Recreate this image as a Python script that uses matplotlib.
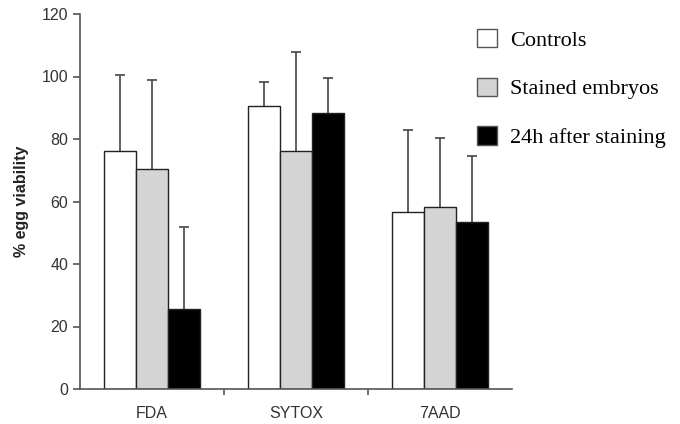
import numpy as np
import matplotlib.pyplot as plt
from matplotlib.patches import Patch
from matplotlib.ticker import FixedLocator

categories = ['FDA', 'SYTOX', '7AAD']
series = ['Controls', 'Stained embryos', '24h after staining']
means = {
    'Controls': [76.1, 90.6, 56.5],
    'Stained embryos': [70.4, 76.2, 58.3],
    '24h after staining': [25.7, 88.3, 53.4],
}
errors = {
    'Controls': [24.5, 7.6, 26.5],
    'Stained embryos': [28.4, 31.5, 21.9],
    '24h after staining': [26.2, 11.3, 21.2],
}
colors = ['white', '#d4d4d4', 'black']

fig = plt.figure(figsize=(6.8, 4.24), dpi=100)
ax = fig.add_axes([80 / 680, 35 / 424, 432 / 680, 375 / 424])

x = np.arange(len(categories))
width = 32 / 144
for i, name in enumerate(series):
    pos = x + (i - 1) * width
    ax.bar(pos, means[name], width, color=colors[i], edgecolor='#222222', linewidth=1.0,
           zorder=2)
    eb = ax.errorbar(pos, means[name], yerr=[np.zeros(3), errors[name]], fmt='none',
                     ecolor='#444444', elinewidth=1.2, capsize=3.6, capthick=1.2, zorder=1)
    # one-sided bars: hide the lower cap
    eb[1][0].set_visible(False)

ax.set_xlim(-0.5, 2.5)
ax.set_ylim(0, 120)
ax.set_yticks(range(0, 121, 20))
ax.set_xticks(x)
ax.set_xticklabels(categories)
ax.xaxis.set_minor_locator(FixedLocator([0.5, 1.5]))
ax.tick_params(axis='x', which='major', length=0, pad=12, labelsize=11.5, colors='#333333')
ax.tick_params(axis='x', which='minor', length=4, width=1.2, color='#555555')
ax.tick_params(axis='y', length=5, width=1.2, color='#555555', labelsize=11.5,
               labelcolor='#333333', pad=3.5)
for lab in ax.get_xticklabels() + ax.get_yticklabels():
    lab.set_family('Liberation Sans')

ax.set_ylabel('% egg viability', fontsize=11.5, fontweight='bold', family='Liberation Sans',
              labelpad=9, color='#222222')
for s in ['top', 'right']:
    ax.spines[s].set_visible(False)
for s in ['left', 'bottom']:
    ax.spines[s].set_color('#555555')
    ax.spines[s].set_linewidth(1.2)

handles = [Patch(facecolor=c, edgecolor='#555555', linewidth=1.0) for c in colors]
fig.legend(handles, series, loc='upper left', bbox_to_anchor=(477 / 680, 1 - 29 / 424),
           frameon=False, borderpad=0, borderaxespad=0,
           prop={'family': 'Liberation Serif', 'size': 16},
           handlelength=0.9, handleheight=0.9, labelspacing=1.2, handletextpad=0.6)

fig.savefig('out.png', dpi=100)
